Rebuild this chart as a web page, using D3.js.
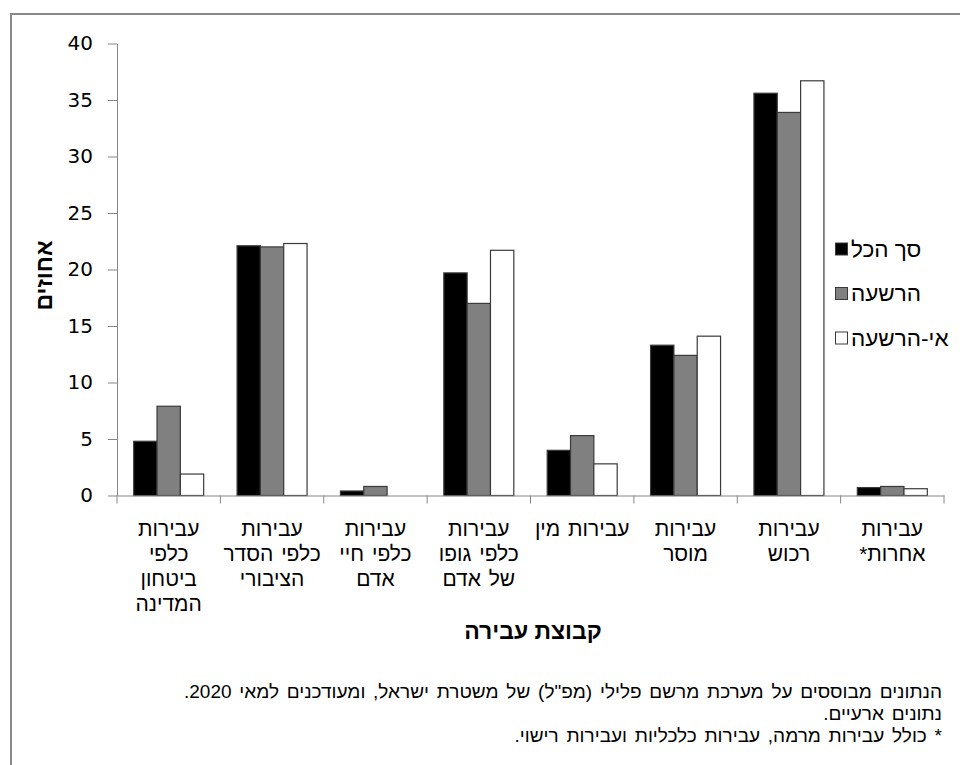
<!DOCTYPE html>
<html lang="he">
<head>
<meta charset="utf-8">
<script src="https://cdn.jsdelivr.net/npm/d3@7"></script>
<style>
  html, body { margin: 0; padding: 0; background: #fff; }
  svg { display: block; }
  text { font-family: "Liberation Sans", Arial, sans-serif; fill: #000; }
</style>
</head>
<body>
<svg id="chart" width="960" height="765"></svg>
<script>
// ---- data ----
const categories = [
  ["עבירות", "כלפי", "ביטחון", "המדינה"],
  ["עבירות", "כלפי הסדר", "הציבורי"],
  ["עבירות", "כלפי חיי", "אדם"],
  ["עבירות", "כלפי גופו", "של אדם"],
  ["עבירות מין"],
  ["עבירות", "מוסר"],
  ["עבירות", "רכוש"],
  ["עבירות", "אחרות*"]
];
const seriesNames = ["סך הכל", "הרשעה", "אי-הרשעה"];
const totalValues      = [4.8, 22.1, 0.4, 19.7, 4.0, 13.3, 35.6, 0.7];
const convictedValues  = [7.9, 22.0, 0.8, 17.0, 5.3, 12.4, 33.9, 0.8];
const notConvictedValues = [1.9, 22.3, 0.0, 21.7, 2.8, 14.1, 36.7, 0.6];
const yTicks = [0, 5, 10, 15, 20, 25, 30, 35, 40];
const yTitle = "אחוזים";
const xTitle = "קבוצת עבירה";
const footnotes = [
  "הנתונים מבוססים על מערכת מרשם פלילי (מפ\"ל) של משטרת ישראל, ומעודכנים למאי 2020.",
  "נתונים ארעיים.",
  "* כולל עבירות מרמה, עבירות כלכליות ועבירות רישוי."
];
const seriesColors = ["#000000", "#808080", "#ffffff"];

// ---- build ----
const catKeys = categories.map(c => c.join(" "));
const seriesValues = [totalValues, convictedValues, notConvictedValues];
const rows = catKeys.map((k, i) => ({ key: k, vals: seriesValues.map(s => s[i]) }));

const svg = d3.select("#chart");

// outer frame
svg.append("rect")
  .attr("x", 11).attr("y", 14).attr("width", 1000).attr("height", 900)
  .attr("fill", "none").attr("stroke", "#8a8a8a").attr("stroke-width", 2);

const pLeft = 117, pRight = 944, pTop = 43.5, pBottom = 495.5;

const x0 = d3.scaleBand().domain(catKeys).range([pLeft, pRight])
  .paddingInner(0.323).paddingOuter(0.1615);
const x1 = d3.scaleBand().domain(d3.range(seriesNames.length)).range([0, x0.bandwidth()]);
const y = d3.scaleLinear().domain([0, 40]).range([pBottom, pTop]);

// y axis
const yAxis = svg.append("g")
  .attr("transform", `translate(${pLeft},0)`)
  .call(d3.axisLeft(y).tickValues(yTicks).tickSize(9).tickSizeOuter(0).tickPadding(15));
yAxis.select(".domain").attr("stroke", "#868686");
yAxis.selectAll(".tick line").attr("stroke", "#868686");
yAxis.selectAll(".tick text")
  .style("font-family", "'DejaVu Sans', sans-serif")
  .style("font-size", "20px").attr("fill", "#000");

// bars
const groups = svg.append("g").selectAll("g").data(rows).join("g")
  .attr("transform", d => `translate(${x0(d.key)},0)`);
groups.selectAll("rect").data(d => d.vals.map((v, i) => ({ v, i }))).join("rect")
  .attr("x", d => x1(d.i))
  .attr("y", d => y(d.v))
  .attr("width", x1.bandwidth())
  .attr("height", d => y(0) - y(d.v))
  .attr("fill", d => seriesColors[d.i])
  .attr("stroke", d => d.v > 0 ? "#3a3a3a" : "none")
  .attr("stroke-width", 1.2);

// x axis
const xAxis = svg.append("g")
  .attr("transform", `translate(0,${pBottom})`)
  .call(d3.axisBottom(x0).tickSize(0).tickFormat(""));
xAxis.select(".domain").attr("stroke", "#868686");
const step = x0.step();
const boundaries = d3.range(catKeys.length + 1).map(i =>
  i < catKeys.length ? x0(catKeys[i]) - step * 0.1615 : x0(catKeys[i - 1]) + x0.bandwidth() + step * 0.1615);
xAxis.selectAll(".bnd").data(boundaries).join("line").attr("class", "bnd")
  .attr("x1", d => d).attr("x2", d => d).attr("y1", 0).attr("y2", 8)
  .attr("stroke", "#868686");

// category labels
const labelG = svg.append("g");
categories.forEach((lines, i) => {
  const cx = x0(catKeys[i]) + x0.bandwidth() / 2;
  const t = labelG.append("text")
    .attr("text-anchor", "middle")
    .attr("direction", "rtl")
    .style("font-size", "21px")
    .style("word-spacing", "2px");
  lines.forEach((ln, j) => {
    t.append("tspan").attr("x", cx).attr("y", 536 + j * 25).text(ln);
  });
});

// axis titles
svg.append("text")
  .attr("transform", `translate(52,${(pTop + pBottom) / 2 + 6}) rotate(-90)`)
  .attr("text-anchor", "middle")
  .style("font-size", "23px").style("font-weight", "bold")
  .text(yTitle);
svg.append("text")
  .attr("x", 533).attr("y", 639)
  .attr("text-anchor", "middle")
  .style("font-size", "23px").style("font-weight", "bold")
  .text(xTitle);

// legend
const legend = svg.append("g");
seriesNames.forEach((name, i) => {
  const cy = 249 + i * 44.5;
  legend.append("rect")
    .attr("x", 835.5).attr("y", cy - 6).attr("width", 12).attr("height", 12)
    .attr("fill", seriesColors[i]).attr("stroke", "#3a3a3a").attr("stroke-width", 1);
  legend.append("text")
    .attr("x", 851).attr("y", cy + 7.5)
    .style("font-size", "22.5px")
    .text(name);
});

// footnotes
footnotes.forEach((f, i) => {
  svg.append("text")
    .attr("x", 942).attr("y", [698, 720, 742][i])
    .attr("direction", "rtl")
    .attr("text-anchor", "start")
    .style("font-size", "19px")
    .style("word-spacing", "2.5px")
    .text(f);
});
</script>
</body>
</html>
